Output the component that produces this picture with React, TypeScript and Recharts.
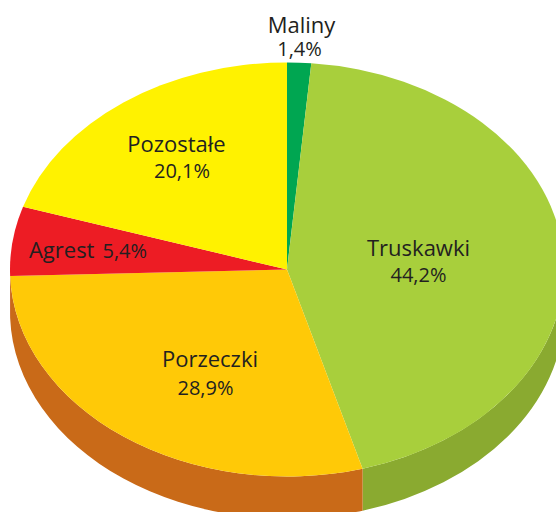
import React from 'react';
import { PieChart, Pie } from 'recharts';

const names = ['Maliny', 'Truskawki', 'Porzeczki', 'Agrest', 'Pozostałe'];
const values = [1.4, 44.2, 28.9, 5.4, 20.1];
const valueLabels = ['1,4%', '44,2%', '28,9%', '5,4%', '20,1%'];
const topColors = ['#00a651', '#a8cf3c', '#ffc907', '#ed1c24', '#fff200'];
const sideColors = ['#008a43', '#8aaa30', '#c96a18', '#c01820', '#d0c400'];

const WIDTH = 556;
const HEIGHT = 512;
const CX = 287;
const CY = 269.5;
const RX = 277;
const RY = 207;
const DEPTH = 42;
const FONT = '"Open Sans", sans-serif';
const INK = '#231f20';

// name x, name baseline, value x, value baseline, per slice
const labelPos = [
  [301.5, 33, 299.5, 56],
  [418.5, 256, 418.5, 282],
  [210, 367, 205.5, 395],
  [88, 258, 88, 258],
  [176.5, 152, 182, 178],
];

const topData = names.map((name, i) => ({ name, value: values[i], fill: topColors[i] }));
const sideData = names.map((name, i) => ({ name, value: values[i], fill: sideColors[i] }));

const pt = (cx: number, cy: number, deg: number) => {
  const a = (deg * Math.PI) / 180;
  return [cx + RX * Math.cos(a), cy - RY * Math.sin(a)];
};

// Recharts pies are circular, so squash the sector into an ellipse
const TopSlice = (props: any) => {
  const { cx, cy, startAngle, endAngle, fill } = props;
  const [x1, y1] = pt(cx, cy, startAngle);
  const [x2, y2] = pt(cx, cy, endAngle);
  const large = startAngle - endAngle > 180 ? 1 : 0;
  return (
    <path
      d={`M${cx},${cy}L${x1},${y1}A${RX},${RY} 0 ${large} 1 ${x2},${y2}Z`}
      fill={fill}
    />
  );
};

// Side wall, only the front half of the ellipse shows
const SideSlice = (props: any) => {
  const { cx, cy, startAngle, endAngle, fill } = props;
  const hi = Math.min(startAngle, 0);
  const lo = Math.max(endAngle, -180);
  if (lo >= hi) return null;
  const [x1, y1] = pt(cx, cy, hi);
  const [x2, y2] = pt(cx, cy, lo);
  return (
    <path
      d={`M${x1},${y1}A${RX},${RY} 0 0 1 ${x2},${y2}L${x2},${y2 + DEPTH}A${RX},${RY} 0 0 0 ${x1},${y1 + DEPTH}Z`}
      fill={fill}
    />
  );
};

const renderLabel = (props: any) => {
  const { index } = props;
  const [x1, y1, x2, y2] = labelPos[index];
  if (names[index] === 'Agrest') {
    return (
      <text x={x1} y={y1} textAnchor="middle" fontFamily={FONT} fill={INK}>
        <tspan fontSize={22}>{names[index]}</tspan>
        <tspan fontSize={20} dx={8}>{valueLabels[index]}</tspan>
      </text>
    );
  }
  return (
    <g>
      <text x={x1} y={y1} textAnchor="middle" fontFamily={FONT} fontSize={22} fill={INK}>
        {names[index]}
      </text>
      <text x={x2} y={y2} textAnchor="middle" fontFamily={FONT} fontSize={20} fill={INK}>
        {valueLabels[index]}
      </text>
    </g>
  );
};

export default function App() {
  return (
    <div style={{ position: 'absolute', left: 0, top: 0, width: WIDTH, height: HEIGHT, overflow: 'hidden', background: '#fff' }}>
      <PieChart width={WIDTH} height={HEIGHT} margin={{ top: 0, right: 0, bottom: 0, left: 0 }}>
        <Pie
          data={sideData}
          dataKey="value"
          nameKey="name"
          cx={CX}
          cy={CY}
          innerRadius={0}
          outerRadius={RX}
          startAngle={90}
          endAngle={-270}
          stroke="none"
          shape={SideSlice}
          isAnimationActive={false}
        />
        <Pie
          data={topData}
          dataKey="value"
          nameKey="name"
          cx={CX}
          cy={CY}
          innerRadius={0}
          outerRadius={RX}
          startAngle={90}
          endAngle={-270}
          stroke="none"
          shape={TopSlice}
          label={renderLabel}
          labelLine={false}
          isAnimationActive={false}
        />
      </PieChart>
    </div>
  );
}
